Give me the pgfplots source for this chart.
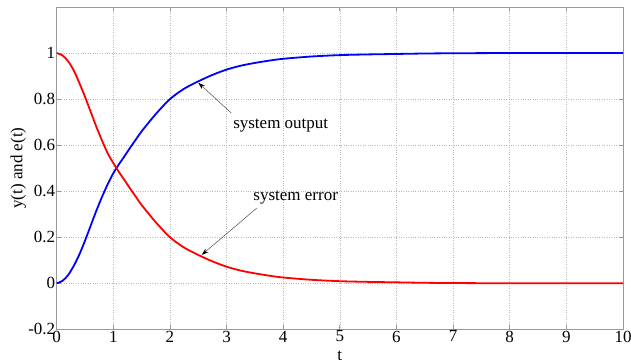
\documentclass[border=0pt]{standalone}
\usepackage{fontspec}
\setmainfont{Liberation Serif}
\usepackage{pgfplots}
\pgfplotsset{compat=1.18}
\usetikzlibrary{arrows.meta}
\newcommand{\ff}{\rmfamily\fontsize{17bp}{19bp}\selectfont}
\begin{document}
\begin{tikzpicture}
\begin{axis}[
  name=ax,
  scale only axis,
  width=566.3bp, height=322.3bp,
  xmin=0, xmax=10, ymin=-0.2, ymax=1.2,
  xtick={0,1,...,10},
  xticklabel={\pgfmathprintnumber{\tick}},
  ytick={-0.2,0,0.2,0.4,0.6,0.8,1},
  yticklabels={-0.2,0,0.2,0.4,0.6,0.8,1},
  grid=major,
  major grid style={dotted, gray!55, line width=0.6bp},
  axis line style={gray!80, line width=0.8bp},
  tick style={gray!80, line width=0.8bp},
  tick align=inside,
  major tick length=4bp,
  /pgf/number format/assume math mode=true,
  ticklabel style={font=\ff, text=black},
  xticklabel style={yshift=2bp},
  yticklabel style={xshift=2bp},
  xlabel={t},
  ylabel={y(t) and e(t)},
  every axis y label/.style={at={(axis description cs:-0.068,0.5)}, rotate=90, anchor=center, font=\ff},
  every axis x label/.style={at={(axis description cs:0.5,0)}, anchor=north, yshift=-18bp, font=\ff},
]
\addplot[blue, line width=1.8bp, smooth] coordinates {
(0,0) (0.1,0.01) (0.2,0.035) (0.3,0.075) (0.4,0.125) (0.5,0.185) (0.6,0.25) (0.7,0.315) (0.8,0.375) (0.9,0.43)
(1.0,0.478) (1.1,0.517) (1.2,0.553) (1.3,0.59) (1.4,0.625) (1.5,0.66) (1.75,0.735) (2.0,0.80)
(2.25,0.845) (2.5,0.877) (2.75,0.905) (3.0,0.928) (3.25,0.945) (3.5,0.957) (3.75,0.967) (4.0,0.975)
(4.5,0.985) (5.0,0.991) (5.5,0.994) (6.0,0.996) (6.5,0.998) (7,0.999) (8,1.0) (10,1.0)
};
\addplot[red, line width=1.8bp, smooth] coordinates {
(0,1) (0.1,0.99) (0.2,0.965) (0.3,0.925) (0.4,0.87) (0.5,0.81) (0.6,0.745) (0.7,0.68) (0.8,0.62) (0.9,0.565)
(1.0,0.522) (1.1,0.483) (1.2,0.447) (1.3,0.41) (1.4,0.375) (1.5,0.34) (1.75,0.265) (2.0,0.20)
(2.25,0.155) (2.5,0.123) (2.75,0.095) (3.0,0.072) (3.25,0.055) (3.5,0.043) (3.75,0.033) (4.0,0.025)
(4.5,0.015) (5.0,0.009) (5.5,0.006) (6.0,0.004) (6.5,0.002) (7,0.001) (8,0.0) (10,0.0)
};
\draw[gray!60!black, line width=0.5bp, -{Stealth[length=7bp,width=4.5bp,black]}] (axis cs:3.08,0.74) -- (axis cs:2.50,0.871);
\node[font=\ff, inner sep=1bp] at (axis cs:3.956,0.684) {system output};
\draw[gray!60!black, line width=0.5bp, -{Stealth[length=7bp,width=4.5bp,black]}] (axis cs:3.53,0.326) -- (axis cs:2.56,0.123);
\node[font=\ff, inner sep=1bp] at (axis cs:4.22,0.371) {system error};
\end{axis}
\pgfresetboundingbox
\path ([shift={(-56.7bp,-30.7bp)}]ax.south west) rectangle ([shift={(8bp,7bp)}]ax.north east);
\end{tikzpicture}
\end{document}
